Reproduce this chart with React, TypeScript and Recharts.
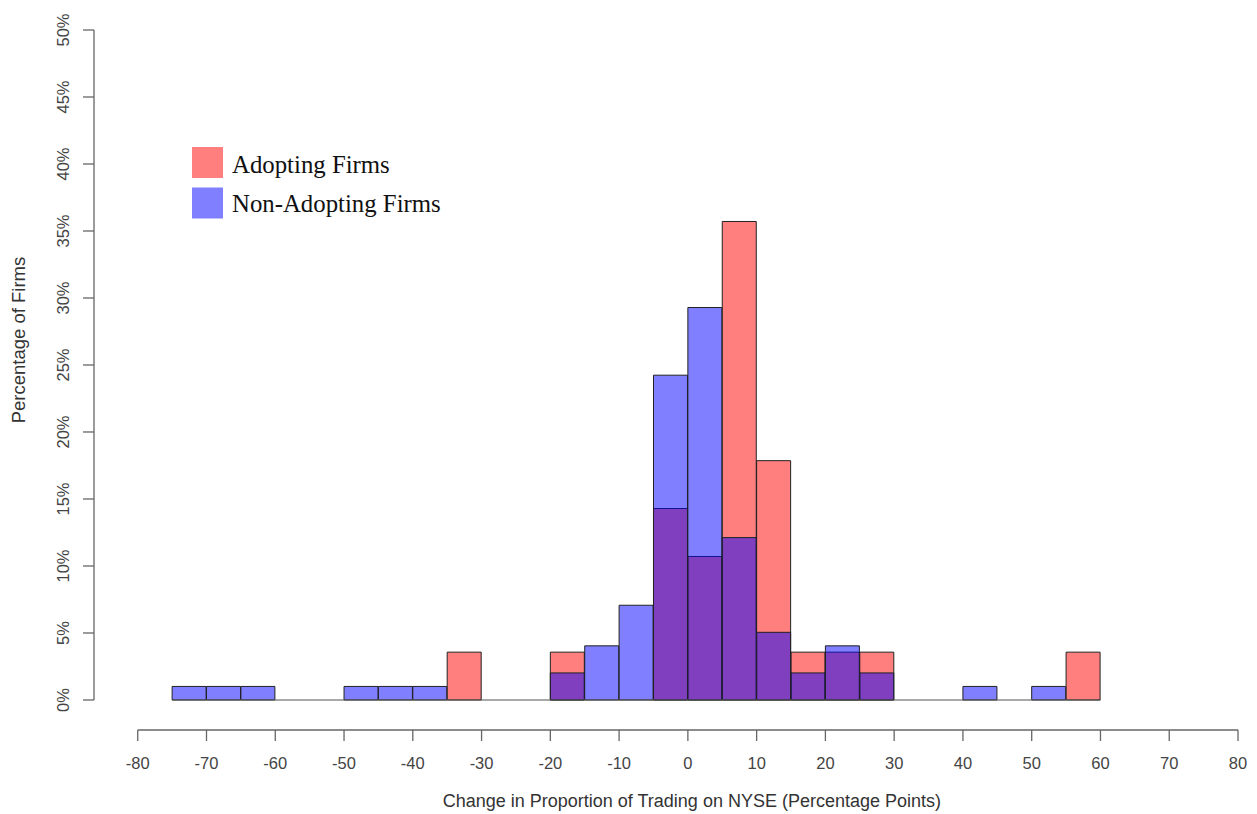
import React from 'react';
import { ComposedChart, Bar, XAxis, YAxis, ReferenceLine, Legend, Label } from 'recharts';

// ---- data ----
const binStarts = [-75, -70, -65, -60, -55, -50, -45, -40, -35, -30, -25, -20, -15, -10, -5, 0, 5, 10, 15, 20, 25, 30, 35, 40, 45, 50, 55];
const binWidth = 5;
const adoptingPct = [0, 0, 0, 0, 0, 0, 0, 0, 3.57, 0, 0, 3.57, 0, 0, 14.29, 10.71, 35.71, 17.86, 3.57, 3.57, 3.57, 0, 0, 0, 0, 0, 3.57];
const nonAdoptingPct = [1.01, 1.01, 1.01, 0, 0, 1.01, 1.01, 1.01, 0, 0, 0, 2.02, 4.04, 7.07, 24.24, 29.29, 12.12, 5.05, 2.02, 4.04, 2.02, 0, 0, 1.01, 0, 1.01, 0];
const xTicks = [-80, -70, -60, -50, -40, -30, -20, -10, 0, 10, 20, 30, 40, 50, 60, 70, 80];
const yTicks = [0, 5, 10, 15, 20, 25, 30, 35, 40, 45, 50];
const seriesNames = ['Adopting Firms', 'Non-Adopting Firms'];
const xTitle = 'Change in Proportion of Trading on NYSE (Percentage Points)';
const yTitle = 'Percentage of Firms';

const data = binStarts.map((s, i) => ({
  center: s + binWidth / 2,
  adopting: adoptingPct[i] > 0 ? adoptingPct[i] : null,
  nonAdopting: nonAdoptingPct[i] > 0 ? nonAdoptingPct[i] : null,
}));

// ---- layout ----
const W = 1257;
const H = 814;
const plotLeft = 94;
const plotRight = 1238;
const plotTop = 30;
const plotBottom = 730;
const xMin = -86.36;
const xMax = 80;
const yMin = -2.24;
const yMax = 50;
const pxPerUnit = (plotRight - plotLeft) / (xMax - xMin);

const RED = '#FF0000';
const BLUE = '#0000FF';
const AXIS = '#666666';
const TICKTXT = '#444444';
const SANS = '"Liberation Sans", Arial, Helvetica, sans-serif';
const SERIF = '"Liberation Serif", "Times New Roman", serif';

const XTick = (props: any) => {
  const { x, y, payload } = props;
  return (
    <text x={x} y={y + 28} textAnchor="middle" fill={TICKTXT} fontSize={16.5} fontFamily={SANS}>
      {payload.value}
    </text>
  );
};

const YTick = (props: any) => {
  const { x, y, payload } = props;
  return (
    <text
      x={x}
      y={y}
      textAnchor="middle"
      transform={`rotate(-90 ${x} ${y})`}
      fill={TICKTXT}
      fontSize={16.5}
      fontFamily={SANS}
    >
      {`${payload.value}%`}
    </text>
  );
};

const XTitle = (props: any) => {
  const vb = props.viewBox || {};
  const cx = plotLeft + (0 - xMin) * pxPerUnit + 4;
  return (
    <text x={cx} y={(vb.y ?? plotBottom) + (vb.height ?? 84) - 7} textAnchor="middle" fill="#333" fontSize={18} fontFamily={SANS}>
      {xTitle}
    </text>
  );
};

const YTitle = () => {
  const x = 25;
  const y = 340;
  return (
    <text x={x} y={y} textAnchor="middle" transform={`rotate(-90 ${x} ${y})`} fill="#333" fontSize={18.5} fontFamily={SANS}>
      {yTitle}
    </text>
  );
};

const legendColors = [RED, BLUE];

const LegendContent = () => (
  <svg width={480} height={240} style={{ display: 'block' }}>
    {seriesNames.map((name, i) => (
      <g key={name}>
        <rect x={192} y={147 + i * 40.5} width={31} height={31} fill={legendColors[i]} fillOpacity={0.5} />
        <text x={232} y={172.5 + i * 39} fontFamily={SERIF} fontSize={24.8} fill="#111">
          {name}
        </text>
      </g>
    ))}
  </svg>
);

export default function App() {
  const firstStart = binStarts[0];
  const lastEnd = binStarts[binStarts.length - 1] + binWidth;
  return (
    <div style={{ position: 'absolute', left: 0, top: 0, width: W, height: H, background: '#fff' }}>
      <ComposedChart
        width={W}
        height={H}
        data={data}
        margin={{ top: plotTop, right: W - plotRight, bottom: 0, left: 0 }}
        barGap={0}
        barCategoryGap={0}
      >
        <XAxis
          xAxisId="a"
          dataKey="center"
          type="number"
          domain={[xMin, xMax]}
          allowDataOverflow
          ticks={xTicks}
          interval={0}
          axisLine={false}
          tickLine={{ stroke: AXIS, strokeWidth: 1.3 }}
          tickSize={11}
          tickMargin={0}
          tick={<XTick />}
          height={H - plotBottom}
        >
          <Label content={<XTitle />} />
        </XAxis>
        <XAxis xAxisId="b" dataKey="center" type="number" domain={[xMin, xMax]} allowDataOverflow hide />
        <YAxis
          type="number"
          domain={[yMin, yMax]}
          allowDataOverflow
          ticks={yTicks}
          interval={0}
          axisLine={false}
          tickLine={{ stroke: AXIS, strokeWidth: 1.3 }}
          tickSize={11}
          tickMargin={14}
          tick={<YTick />}
          width={plotLeft}
        >
          <Label content={<YTitle />} />
        </YAxis>
        <ReferenceLine
          xAxisId="a"
          segment={[{ x: xMin, y: 0 }, { x: xMin, y: 50 }]}
          stroke={AXIS}
          strokeWidth={1.3}
          ifOverflow="visible"
        />
        <ReferenceLine
          xAxisId="a"
          segment={[{ x: -80, y: yMin }, { x: 80, y: yMin }]}
          stroke={AXIS}
          strokeWidth={1.3}
          ifOverflow="visible"
        />
        <ReferenceLine
          xAxisId="a"
          segment={[{ x: firstStart, y: 0 }, { x: lastEnd, y: 0 }]}
          stroke="#555"
          strokeWidth={1.2}
          ifOverflow="visible"
        />
        <Bar
          xAxisId="a"
          dataKey="adopting"
          name={seriesNames[0]}
          fill={RED}
          fillOpacity={0.5}
          stroke="#222"
          strokeWidth={1}
          isAnimationActive={false}
        />
        <Bar
          xAxisId="b"
          dataKey="nonAdopting"
          name={seriesNames[1]}
          fill={BLUE}
          fillOpacity={0.5}
          stroke="#222"
          strokeWidth={1}
          isAnimationActive={false}
        />
        <Legend
          layout="vertical"
          align="center"
          verticalAlign="middle"
          content={<LegendContent />}
          wrapperStyle={{ left: 0, top: 0, width: 480, height: 240 }}
        />
      </ComposedChart>
    </div>
  );
}
